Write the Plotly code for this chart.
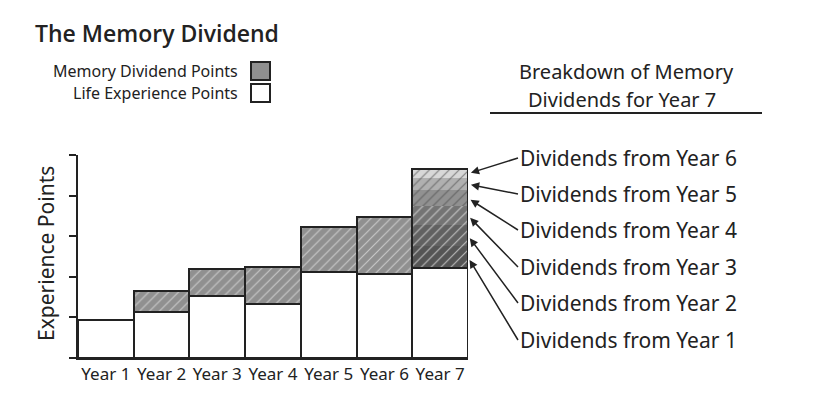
import plotly.graph_objects as go

# ---------------- data ----------------
years = ["Year 1", "Year 2", "Year 3", "Year 4", "Year 5", "Year 6", "Year 7"]
life_points = [0.94, 1.13, 1.52, 1.34, 2.12, 2.07, 2.21]
dividend_points = [0.0, 0.53, 0.68, 0.89, 1.10, 1.41, 2.44]

# breakdown of the Year 7 dividend (bottom -> top)
breakdown_sources = ["Year 1", "Year 2", "Year 3", "Year 4", "Year 5", "Year 6"]
breakdown_values = [0.54, 0.52, 0.47, 0.39, 0.30, 0.22]
breakdown_colors = ["#555555", "#616161", "#747474", "#919191", "#b0b0b0", "#d8d8d8"]

# ---------------- layout constants ----------------
OFF = 8                      # default page body margin
W, H = 825 - 2 * OFF, 393 - 2 * OFF
PX_L, PX_R, PX_T, PX_B = 78, 468, 155, 358   # plot area in window pixels
Y_MAX = 5
INK = "#222222"
HAND = "Noto Sans"


def px(x):
    return (x - OFF) / W


def py(y):
    return 1 - (y - OFF) / H


def py_data(y):
    return (PX_B - y) / (PX_B - PX_T) * Y_MAX


def px_cat(x):
    return (x - PX_L) / ((PX_R - PX_L) / len(years)) - 0.5


fig = go.Figure()

# life experience points (white)
fig.add_trace(go.Bar(
    x=years, y=life_points, base=[0] * len(years),
    marker=dict(color="white", line=dict(color=INK, width=2)),
    width=1, name="Life Experience Points", showlegend=False,
))

# memory dividend points, years 2-6 (hatched grey)
fig.add_trace(go.Bar(
    x=years[1:6], y=dividend_points[1:6], base=life_points[1:6],
    marker=dict(
        color="#909090",
        line=dict(color=INK, width=2),
        pattern=dict(shape="/", fgcolor="#e6e6e6", bgcolor="#909090",
                     size=7, solidity=0.16, fgopacity=0.65),
    ),
    width=1, name="Memory Dividend Points", showlegend=False,
))

# Year 7 dividend breakdown segments
bases = []
acc = life_points[6]
for v in breakdown_values:
    bases.append(acc)
    acc += v
fig.add_trace(go.Bar(
    x=[years[6]] * len(breakdown_values), y=breakdown_values, base=bases,
    marker=dict(
        color=breakdown_colors,
        line=dict(width=0),
        pattern=dict(shape="/", fgcolor="#f2f2f2", bgcolor=breakdown_colors,
                     size=7, solidity=0.16, fgopacity=0.6),
    ),
    width=1, showlegend=False,
))

# Year 7 dividend outline
fig.add_trace(go.Bar(
    x=[years[6]], y=[dividend_points[6]], base=[life_points[6]],
    marker=dict(color="rgba(0,0,0,0)", line=dict(color=INK, width=2)),
    width=1, showlegend=False,
))

annotations = []
shapes = []

# breakdown labels with arrows
label_y_px = [340, 303, 267, 230, 194, 158]  # Year 1 .. Year 6
for src, base, v, ly in zip(breakdown_sources, bases, breakdown_values, label_y_px):
    annotations.append(dict(
        x=6.5, y=base + v / 2, xref="x", yref="y",
        ax=px_cat(518), ay=py_data(ly), axref="x", ayref="y",
        text=f"Dividends from {src}", xanchor="left", yanchor="middle",
        showarrow=True, arrowhead=2, arrowsize=1.1, arrowwidth=1.5,
        arrowcolor=INK, standoff=3,
        font=dict(family=HAND, size=21, color=INK),
    ))

# right-hand heading
annotations.append(dict(x=px(626), y=py(71), xref="paper", yref="paper",
                        text="Breakdown of Memory", showarrow=False,
                        xanchor="center", yanchor="middle",
                        font=dict(family=HAND, size=20, color=INK)))
annotations.append(dict(x=px(622), y=py(99), xref="paper", yref="paper",
                        text="Dividends for Year 7", showarrow=False,
                        xanchor="center", yanchor="middle",
                        font=dict(family=HAND, size=20, color=INK)))
shapes.append(dict(type="line", xref="paper", yref="paper",
                   x0=px(490), x1=px(762), y0=py(113), y1=py(113),
                   line=dict(color=INK, width=2)))

# legend (text left, box right)
annotations.append(dict(x=px(240), y=py(71), xref="paper", yref="paper",
                        text="Memory Dividend Points", showarrow=False,
                        xanchor="right", yanchor="middle",
                        font=dict(family=HAND, size=16, color=INK)))
annotations.append(dict(x=px(240), y=py(93), xref="paper", yref="paper",
                        text="Life Experience Points", showarrow=False,
                        xanchor="right", yanchor="middle",
                        font=dict(family=HAND, size=16, color=INK)))
shapes.append(dict(type="rect", xref="paper", yref="paper",
                   x0=px(251), x1=px(270), y0=py(80), y1=py(62),
                   fillcolor="#909090", line=dict(color=INK, width=2)))
shapes.append(dict(type="rect", xref="paper", yref="paper",
                   x0=px(251), x1=px(270), y0=py(102), y1=py(84),
                   fillcolor="white", line=dict(color=INK, width=2)))

# y axis title
annotations.append(dict(x=px(46), y=py(254), xref="paper", yref="paper",
                        text="Experience Points", showarrow=False, textangle=-90,
                        xanchor="center", yanchor="middle",
                        font=dict(family=HAND, size=21, color=INK)))

fig.update_layout(
    width=W, height=H,
    margin=dict(l=0, r=0, t=0, b=0),
    paper_bgcolor="white", plot_bgcolor="white",
    barmode="overlay", bargap=0,
    title=dict(text="The Memory Dividend", x=px(35), xanchor="left",
               xref="paper", y=py(34), yref="container", yanchor="middle",
               font=dict(family="Open Sans", size=23, color=INK, weight=600)),
    xaxis=dict(domain=[px(PX_L), px(PX_R)], showline=True, linecolor=INK,
               linewidth=2, ticks="", showgrid=False, automargin=False,
               tickfont=dict(family=HAND, size=17, color=INK),
               range=[-0.5, 6.5], fixedrange=True),
    yaxis=dict(domain=[py(PX_B), py(PX_T)], range=[0, Y_MAX],
               showline=True, linecolor=INK, linewidth=2,
               ticks="outside", ticklen=7, tickwidth=2, tickcolor=INK,
               tickvals=[0, 1, 2, 3, 4, 5], showticklabels=False,
               showgrid=False, zeroline=False, automargin=False),
    annotations=annotations,
    shapes=shapes,
    showlegend=False,
)

fig.write_html("out.html")
